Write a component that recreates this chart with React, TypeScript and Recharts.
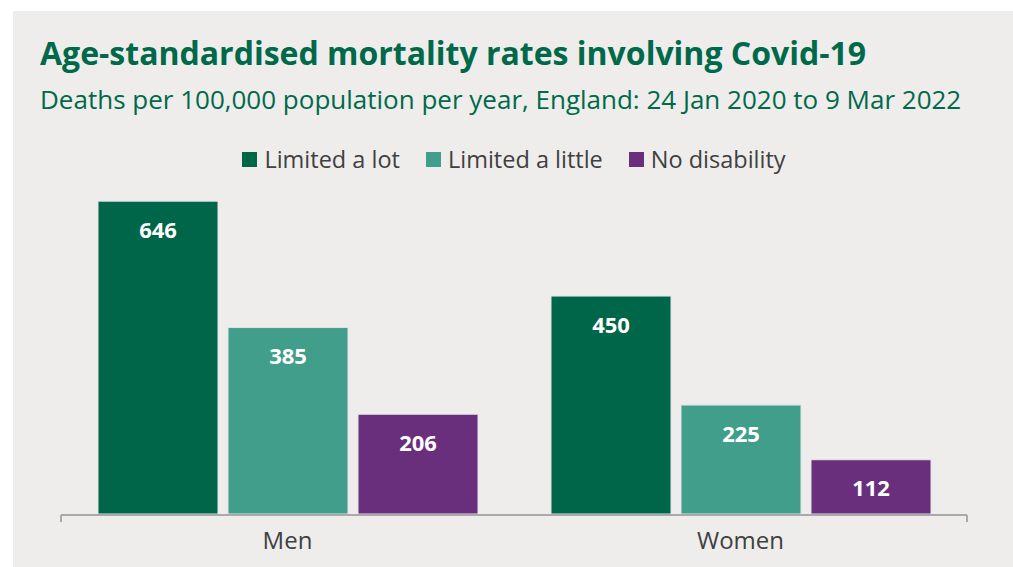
import { BarChart, Bar, XAxis, YAxis, LabelList } from 'recharts'

// Age-standardised Covid-19 mortality rates, per 100,000 per year
const groups = ['Men', 'Women']
const limitedALot = [646, 450]
const limitedALittle = [385, 225]
const noDisability = [206, 112]

const series = [
  { key: 'limitedALot', name: 'Limited a lot', color: '#00664a', values: limitedALot },
  { key: 'limitedALittle', name: 'Limited a little', color: '#419e8a', values: limitedALittle },
  { key: 'noDisability', name: 'No disability', color: '#692f7c', values: noDisability },
]

const data = groups.map((group, i) => {
  const row: Record<string, string | number> = { group }
  series.forEach((s) => {
    row[s.key] = s.values[i]
  })
  return row
})

const FONT = '"Open Sans", sans-serif'
const GREEN = '#00694a'
const TEXT = '#404040'

export default function App() {
  return (
    <div style={{ position: 'absolute', left: 0, top: 0, width: 1013, height: 567, background: '#fff', fontFamily: FONT }}>
      <div style={{ position: 'absolute', left: 13, top: 11, width: 1000, height: 556, background: '#eeedec' }} />

      <div style={{ position: 'absolute', left: 40, top: 37, fontSize: 32, lineHeight: '32px', fontWeight: 700, color: GREEN, whiteSpace: 'nowrap' }}>
        Age-standardised mortality rates involving Covid-19
      </div>
      <div style={{ position: 'absolute', left: 40, top: 86, fontSize: 26, lineHeight: '26px', color: GREEN, whiteSpace: 'nowrap' }}>
        Deaths per 100,000 population per year, England: 24 Jan 2020 to 9 Mar 2022
      </div>

      <div style={{ position: 'absolute', left: 61, top: 148, width: 906, display: 'flex', justifyContent: 'center', gap: 26, fontSize: 23.5, lineHeight: '23px', color: TEXT }}>
        {series.map((s) => (
          <div key={s.key} style={{ display: 'flex', alignItems: 'center', whiteSpace: 'nowrap' }}>
            <span style={{ width: 15, height: 15, background: s.color, marginRight: 7, display: 'inline-block' }} />
            {s.name}
          </div>
        ))}
      </div>

      <div style={{ position: 'absolute', left: 0, top: 0 }}>
        <BarChart
          width={1013}
          height={567}
          data={data}
          margin={{ top: 175, right: 46, bottom: 51, left: 61 }}
          barSize={120}
          barGap={10}
        >
          {/* group dividers: ticks on the band edges */}
          <XAxis
            xAxisId="frame"
            type="number"
            domain={[0, 2]}
            ticks={[0, 1, 2]}
            interval={0}
            height={1}
            tickFormatter={() => ''}
            tickSize={7}
            stroke="#a9a9a9"
            strokeWidth={2}
          />
          <XAxis
            dataKey="group"
            height={1}
            axisLine={false}
            tickLine={false}
            tickMargin={12}
            interval={0}
            tick={{ fill: TEXT, fontSize: 24, fontFamily: FONT }}
          />
          <YAxis hide domain={[0, 700]} />
          {series.map((s) => (
            <Bar key={s.key} dataKey={s.key} name={s.name} fill={s.color} stroke="#e4e4e4" strokeWidth={1} isAnimationActive={false}>
              <LabelList dataKey={s.key} position="insideTop" offset={21} fill="#ffffff" fontSize={22} fontWeight={700} fontFamily={FONT} />
            </Bar>
          ))}
        </BarChart>
      </div>
    </div>
  )
}
